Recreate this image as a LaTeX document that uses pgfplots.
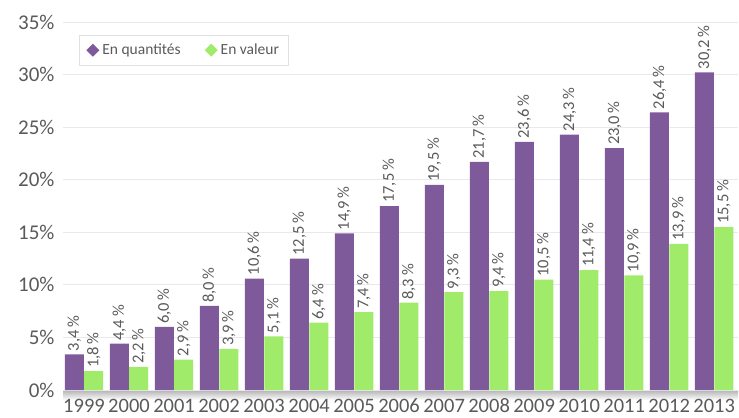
\documentclass[border=0pt]{standalone}
\usepackage{pgfplots}
\pgfplotsset{compat=1.18}
\usepackage{fontspec}
\setmainfont{Carlito}
\definecolor{cpurple}{HTML}{7F5A9B}
\definecolor{cgreen}{HTML}{A0EB6A}
\definecolor{ctext}{HTML}{5A5A5A}
\definecolor{cgrid}{HTML}{E8E8EE}
\begin{document}
\begin{tikzpicture}[x=1bp,y=1bp]
\path[use as bounding box] (0,0) rectangle (739,417);
\shade[top color=black!30, bottom color=white] (63,27) rectangle (738,17);
\begin{axis}[
  at={(63bp,27bp)}, anchor=south west,
  scale only axis, width=675bp, height=368bp,
  xmin=-0.467, xmax=14.53, ymin=0, ymax=35,
  axis line style={draw=none},
  major tick length=0pt,
  /pgf/number format/assume math mode=true,
  ymajorgrids, grid style={cgrid, line width=1pt},
  ytick={0,5,10,15,20,25,30,35},
  yticklabels={0\%,5\%,10\%,15\%,20\%,25\%,30\%,35\%},
  yticklabel style={font=\fontsize{21bp}{22bp}\selectfont, text=ctext, xshift=-5bp},
  xtick={0,...,14},
  xticklabels={1999,2000,2001,2002,2003,2004,2005,2006,2007,2008,2009,2010,2011,2012,2013},
  xticklabel style={font=\fontsize{20.5bp}{21bp}\selectfont, text=ctext, anchor=north, text height=13bp, text depth=0pt, yshift=-5.5bp},
  ybar, bar width=19bp,
  nodes near coords={\pgfmathprintnumber[fixed,fixed zerofill,precision=1,use comma,assume math mode=true]{\pgfplotspointmeta}\,\%},
  every node near coord/.append style={rotate=90, anchor=west, font=\fontsize{16.5bp}{18bp}\selectfont, text=ctext, inner sep=3bp},
  legend columns=2,
  legend style={at={(rel axis cs:0.024,0.965)}, anchor=north west, draw=black!12, fill=white,
    font=\fontsize{15.5bp}{16bp}\selectfont, text=ctext, inner xsep=7bp, inner ysep=7bp,
    /tikz/every even column/.append style={column sep=22bp},
    /tikz/every odd column/.append style={column sep=1bp}},
  legend image code/.code={\fill[#1] (0bp,0bp) -- (6.5bp,6.5bp) -- (13bp,0bp) -- (6.5bp,-6.5bp) -- cycle;},
]
\addplot[fill=cpurple, draw=none, bar shift=-9.7bp] coordinates {
(0,3.4) (1,4.4) (2,6.0) (3,8.0) (4,10.6) (5,12.5) (6,14.9) (7,17.5) (8,19.5) (9,21.7) (10,23.6) (11,24.3) (12,23.0) (13,26.4) (14,30.2)};
\addplot[fill=cgreen, draw=none, bar shift=9.7bp] coordinates {
(0,1.8) (1,2.2) (2,2.9) (3,3.9) (4,5.1) (5,6.4) (6,7.4) (7,8.3) (8,9.3) (9,9.4) (10,10.5) (11,11.4) (12,10.9) (13,13.9) (14,15.5)};
\legend{En quantités, En valeur}
\end{axis}
\end{tikzpicture}
\end{document}
